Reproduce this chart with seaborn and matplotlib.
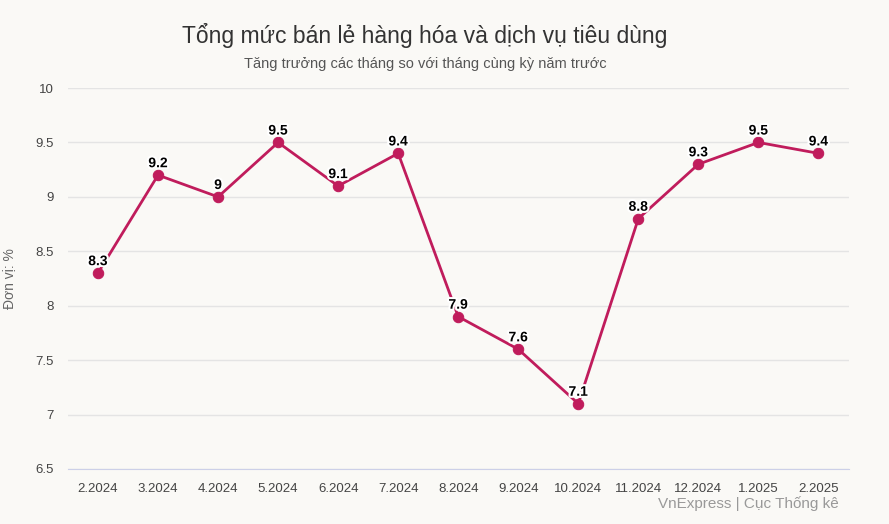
import matplotlib
matplotlib.use("Agg")
import matplotlib.pyplot as plt
import matplotlib.patheffects as pe
import seaborn as sns
import pandas as pd

plt.rcParams["font.family"] = "Liberation Sans"

months = ["2.2024","3.2024","4.2024","5.2024","6.2024","7.2024","8.2024","9.2024","10.2024","11.2024","12.2024","1.2025","2.2025"]
values = [8.3,9.2,9.0,9.5,9.1,9.4,7.9,7.6,7.1,8.8,9.3,9.5,9.4]
labels = ["8.3","9.2","9","9.5","9.1","9.4","7.9","7.6","7.1","8.8","9.3","9.5","9.4"]
yticks = [6.5,7,7.5,8,8.5,9,9.5,10]
ytick_labels = ["6.5","7","7.5","8","8.5","9","9.5","10"]

bg = "#faf9f6"
color = "#c01c5c"
df = pd.DataFrame({"x": range(len(months)), "v": values})

fig = plt.figure(figsize=(8.89,5.24), dpi=100, facecolor=bg)
ax = fig.add_axes([0.0765,0.105,0.879,0.727], facecolor=bg)
sns.lineplot(data=df, x="x", y="v", ax=ax, color=color, linewidth=2, marker="o",
             markersize=7.5, markeredgecolor=color)
for i,(v,l) in enumerate(zip(values,labels)):
    ax.text(i, v+0.045, l, ha="center", va="bottom", fontsize=10, fontweight="bold",
            color="black", path_effects=[pe.withStroke(linewidth=3, foreground="white")])
n = len(months)
sp = (819-98)/(n-1)
ax.set_xlim(-(98-68)/sp, (n-1)+(850-819)/sp)
ax.set_ylim(6.5,10)
ax.set_xticks(range(n)); ax.set_xticklabels(months, fontsize=9.5, color="#444")
ax.set_yticks(yticks); ax.set_yticklabels(ytick_labels, fontsize=9.5, color="#444")
ax.grid(axis="y", color="#e4e4e4", linewidth=1)
ax.set_axisbelow(True)
for s in ["top","right","left"]:
    ax.spines[s].set_visible(False)
ax.spines["bottom"].set_color("#ccd0e8")
ax.tick_params(length=0, pad=10)
ax.set_xlabel("")
ax.set_ylabel("Đơn vị: %", fontsize=10, color="#666", labelpad=14)
fig.text(0.478, 0.918, "Tổng mức bán lẻ hàng hóa và dịch vụ tiêu dùng", ha="center", fontsize=16.5, color="#333")
fig.text(0.478, 0.87, "Tăng trưởng các tháng so với tháng cùng kỳ năm trước", ha="center", fontsize=10.5, color="#555")
fig.text(0.944, 0.03, "VnExpress | Cục Thống kê", ha="right", fontsize=11, color="#999")
fig.savefig("out.png", dpi=100, facecolor=bg)
